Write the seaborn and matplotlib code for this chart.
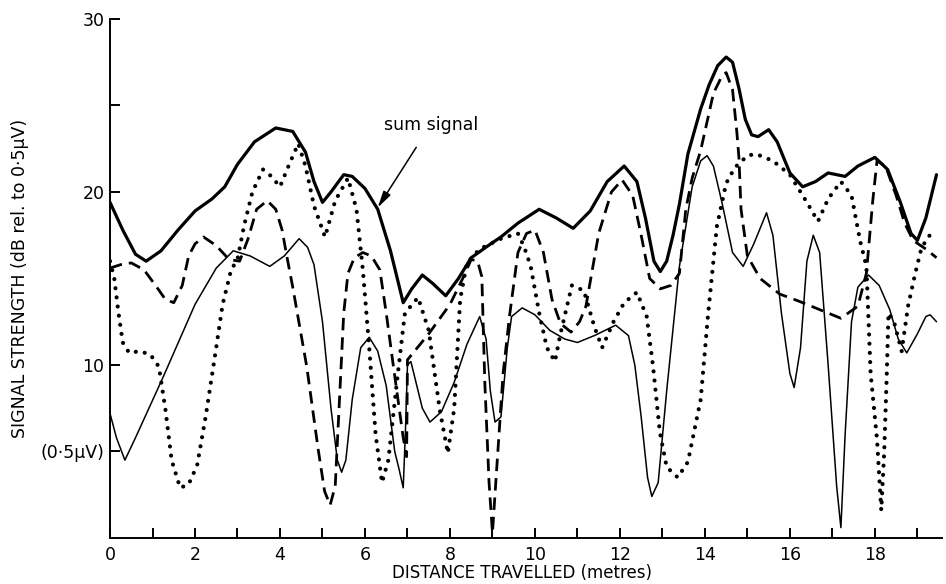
import numpy as np
import pandas as pd
import matplotlib
matplotlib.use("Agg")
import matplotlib.pyplot as plt
import seaborn as sns

# ---- data ----
sum_x = [0, 0.3, 0.6, 0.85, 1.2, 1.6, 2.0, 2.4, 2.7, 3.0, 3.4, 3.9, 4.3, 4.6, 4.8, 5.0,
         5.2, 5.5, 5.7, 6.0, 6.3, 6.6, 6.9, 7.1, 7.35, 7.6, 7.9, 8.2, 8.5, 8.9, 9.2, 9.6,
         10.1, 10.5, 10.9, 11.3, 11.7, 12.1, 12.4, 12.6, 12.8, 12.95, 13.1, 13.25, 13.4,
         13.6, 13.9, 14.1, 14.3, 14.5, 14.65, 14.8, 14.95, 15.1, 15.25, 15.5, 15.7, 16.0,
         16.3, 16.6, 16.9, 17.3, 17.6, 18.0, 18.3, 18.6, 18.85, 19.0, 19.2, 19.45]
sum_y = [19.4, 17.8, 16.4, 16.0, 16.6, 17.8, 18.9, 19.6, 20.3, 21.6, 22.9, 23.7, 23.5, 22.3, 20.6, 19.4,
         20.0, 21.0, 20.9, 20.2, 19.0, 16.6, 13.6, 14.4, 15.2, 14.7, 14.0, 15.0, 16.2, 16.9, 17.4, 18.2,
         19.0, 18.5, 17.9, 18.9, 20.6, 21.5, 20.6, 18.5, 16.0, 15.4, 16.0, 17.5, 19.3,
         22.2, 24.8, 26.2, 27.3, 27.8, 27.5, 26.0, 24.2, 23.3, 23.2, 23.6, 22.9, 21.1,
         20.3, 20.6, 21.1, 20.9, 21.5, 22.0, 21.3, 19.4, 17.6, 17.2, 18.5, 21.0]

dash_x = [0, 0.25, 0.5, 0.8, 1.1, 1.3, 1.5, 1.7, 1.85, 2.0, 2.2, 2.5, 2.8, 3.05, 3.25, 3.45,
          3.7, 3.9, 4.05, 4.16, 4.3, 4.63, 4.9, 5.05, 5.18, 5.3, 5.4, 5.5, 5.6, 5.75, 5.95,
          6.15, 6.35, 6.5, 6.67, 6.9, 6.98, 7.0, 7.5, 8.0, 8.3, 8.5, 8.65, 8.75, 8.82, 8.92,
          9.0, 9.1, 9.25, 9.4, 9.6, 9.8, 10.0, 10.2, 10.4, 10.6, 10.85, 11.05, 11.2, 11.5,
          11.8, 12.05, 12.3, 12.5, 12.7, 12.95, 13.2, 13.4, 13.55, 13.7, 13.9, 14.2, 14.4,
          14.5, 14.65, 14.75, 14.8, 14.85, 15.0, 15.3, 15.76, 16.2, 16.5, 17.2, 17.6, 17.8,
          17.95, 18.05, 18.25, 18.5, 18.7, 18.9, 19.2, 19.45]
dash_y = [15.6, 15.8, 15.9, 15.5, 14.5, 13.8, 13.6, 14.6, 16.3, 17.0, 17.4, 16.9, 16.1, 16.0, 17.3, 19.0,
          19.5, 19.0, 17.8, 16.3, 14.5, 9.9, 5.1, 2.7, 1.9, 3.0, 8.0, 13.0, 15.3, 16.2, 16.5,
          16.3, 15.5, 13.0, 9.9, 5.8, 4.7, 10.3, 11.8, 13.5, 15.0, 16.1, 16.0, 15.1, 9.0, 3.2,
          0.3, 4.0, 9.5, 12.8, 16.5, 17.6, 17.8, 16.5, 13.8, 12.4, 11.9, 12.5, 13.4, 17.6,
          20.0, 20.7, 19.8, 17.5, 15.0, 14.4, 14.6, 15.3, 19.0, 20.8, 22.4, 25.7, 26.7,
          26.9, 25.9, 23.5, 22.0, 19.0, 16.3, 15.0, 14.1, 13.7, 13.4, 12.7, 13.4, 15.3,
          19.5, 21.8, 21.5, 19.8, 18.2, 17.2, 16.7, 16.2]

thin_x = [0, 0.15, 0.35, 0.6, 1.25, 2.0, 2.5, 2.9, 3.3, 3.76, 4.1, 4.45, 4.65, 4.8, 5.0, 5.2,
          5.35, 5.45, 5.55, 5.7, 5.9, 6.1, 6.3, 6.5, 6.7, 6.8, 6.9, 6.95, 7.0, 7.08, 7.2, 7.35,
          7.53, 7.8, 8.1, 8.4, 8.7, 8.85, 8.95, 9.06, 9.2, 9.35, 9.45, 9.7, 10.0, 10.35, 10.7,
          11.0, 11.4, 11.9, 12.2, 12.35, 12.5, 12.65, 12.75, 12.9, 13.1, 13.4, 13.7, 13.9,
          14.05, 14.2, 14.4, 14.65, 14.9, 15.15, 15.45, 15.6, 15.8, 16.0, 16.1, 16.25, 16.4,
          16.55, 16.7, 16.9, 17.1, 17.2, 17.3, 17.45, 17.6, 17.85, 18.1, 18.35, 18.55, 18.75,
          19.0, 19.2, 19.3, 19.45]
thin_y = [7.2, 5.8, 4.5, 5.8, 9.3, 13.5, 15.6, 16.6, 16.3, 15.7, 16.3, 17.3, 16.8, 15.8, 12.5, 7.5,
          4.5, 3.8, 4.5, 8.0, 11.0, 11.6, 10.8, 8.8, 5.0, 4.0, 2.9, 6.0, 10.0, 10.2, 9.0, 7.5,
          6.7, 7.3, 9.0, 11.2, 12.8, 11.5, 8.5, 6.7, 7.0, 11.0, 12.8, 13.3, 12.9, 12.0, 11.5,
          11.3, 11.7, 12.3, 11.7, 10.0, 7.0, 3.5, 2.4, 3.2, 8.5, 15.7, 20.3, 21.8,
          22.1, 21.5, 19.4, 16.5, 15.7, 17.0, 18.8, 17.5, 13.0, 9.5, 8.7, 11.0, 16.0,
          17.5, 16.5, 10.0, 3.0, 0.6, 6.0, 12.5, 14.5, 15.2, 14.6, 13.2, 11.5, 10.7,
          11.8, 12.8, 12.9, 12.5]

dot_x = [0, 0.1, 0.2, 0.3, 0.45, 0.7, 0.95, 1.15, 1.3, 1.45, 1.65, 1.85, 2.05, 2.25, 2.45, 2.65,
         2.85, 3.0, 3.15, 3.35, 3.6, 3.8, 4.0, 4.2, 4.43, 4.6, 4.8, 5.06, 5.3, 5.6, 5.8, 5.95,
         6.1, 6.25, 6.4, 6.55, 6.75, 6.94, 7.25, 7.5, 7.76, 7.95, 8.1, 8.24, 8.4, 8.7, 9.2,
         9.6, 9.75, 9.9, 10.1, 10.28, 10.47, 10.6, 10.87, 11.15, 11.4, 11.58, 11.85, 12.1,
         12.4, 12.63, 12.78, 12.94, 13.1, 13.36, 13.6, 13.9, 14.07, 14.28, 14.5, 14.7, 15.0,
         15.2, 15.6, 16.0, 16.4, 16.66, 16.9, 17.2, 17.45, 17.65, 17.8, 17.9, 18.05, 18.15,
         18.22, 18.28, 18.32, 18.45, 18.63, 18.78, 18.95, 19.1, 19.4]
dot_y = [16.0, 15.0, 13.0, 11.3, 10.7, 10.8, 10.6, 9.9, 7.5, 4.5, 2.9, 3.1, 4.2, 7.0, 10.2, 13.5,
         15.5, 16.1, 18.0, 20.0, 21.3, 20.9, 20.3, 21.5, 22.8, 21.5, 19.2, 17.4, 19.5, 20.8, 19.0, 15.5,
         11.0, 6.0, 3.2, 4.5, 9.0, 13.0, 13.9, 12.0, 7.4, 4.9, 7.5, 13.8, 15.9, 16.7, 17.3,
         17.6, 16.8, 15.7, 13.0, 11.0, 10.2, 11.8, 14.6, 14.3, 12.2, 11.0, 12.5, 13.6,
         14.2, 12.8, 9.9, 6.1, 4.1, 3.5, 4.4, 8.0, 12.8, 18.0, 20.5, 21.4, 22.1,
         22.2, 21.8, 21.0, 19.4, 18.3, 19.6, 20.6, 19.8, 17.2, 15.7, 9.5, 5.7, 1.6,
         5.0, 9.5, 13.0, 12.5, 10.8, 13.4, 15.3, 16.8, 17.9]

x_ticks = [0, 2, 4, 6, 8, 10, 12, 14, 16, 18]
x_tick_labels = ["0", "2", "4", "6", "8", "10", "12", "14", "16", "18"]
y_ticks = [5, 10, 20, 25, 30]
y_tick_labels = ["(0·5μV)", "10", "20", "", "30"]
x_label = "DISTANCE TRAVELLED (metres)"
y_label = "SIGNAL STRENGTH (dB rel. to 0·5μV)"
annot_text = "sum signal"

# ---- plotting ----
sns.set_style("ticks")
plt.rcParams['font.family'] = ['DejaVu Sans']

fig = plt.figure(figsize=(9.46, 5.84), dpi=100)
ax = fig.add_axes([0.1163, 0.0788, 0.8795, 0.8887])

sns.lineplot(x=sum_x, y=sum_y, ax=ax, color="black", lw=2.3, sort=False, estimator=None,
             solid_capstyle="round", solid_joinstyle="round")
sns.lineplot(x=thin_x, y=thin_y, ax=ax, color="black", lw=1.1, sort=False, estimator=None,
             solid_joinstyle="round")
sns.lineplot(x=dash_x, y=dash_y, ax=ax, color="black", lw=2.0, sort=False, estimator=None,
             linestyle=(0, (4.5, 2.5)))
sns.lineplot(x=dot_x, y=dot_y, ax=ax, color="black", lw=3.0, sort=False, estimator=None,
             linestyle=(0, (0.01, 2.2)), dash_capstyle="round")

ax.set_xlim(0, 19.58)
ax.set_ylim(0, 30)
ax.set_xticks(x_ticks)
ax.set_xticklabels(x_tick_labels)
ax.set_xticks(np.arange(1, 20, 2), minor=True)
ax.set_yticks(y_ticks)
ax.set_yticklabels(y_tick_labels)

for side in ["top", "right"]:
    ax.spines[side].set_visible(False)
for side in ["left", "bottom"]:
    ax.spines[side].set_linewidth(1.4)
    ax.spines[side].set_color("black")

ax.tick_params(axis="both", which="both", direction="in", length=7, width=1.4,
               colors="black", labelsize=12.5)
ax.tick_params(axis="x", which="major", pad=6)
ax.tick_params(axis="y", which="major", pad=4)

ax.set_xlabel(x_label, fontsize=12, color="black")
ax.set_ylabel(y_label, fontsize=12.5, color="black")
ax.xaxis.set_label_coords(0.495, -0.050)
ax.yaxis.set_label_coords(-0.097, 0.5)

ax.annotate(annot_text, xy=(6.3, 19.1), xytext=(7.55, 23.9),
            fontsize=12.5, ha="center", va="center", color="black",
            arrowprops=dict(arrowstyle="-|>,head_length=0.8,head_width=0.2",
                            color="black", lw=1.1, shrinkA=9, shrinkB=0))

ax.grid(False)
fig.savefig("out.png", dpi=100, facecolor="white")
